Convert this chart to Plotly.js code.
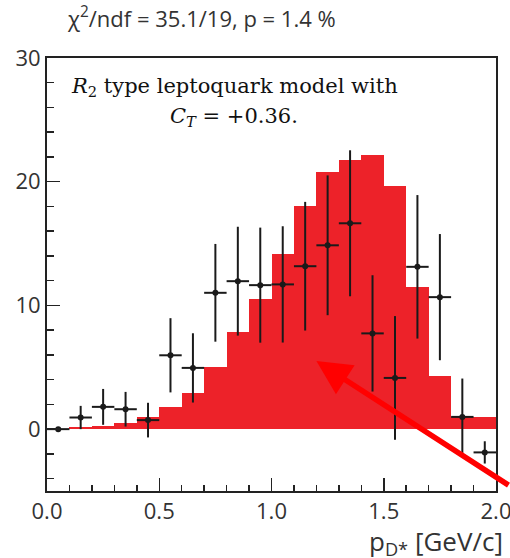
<!DOCTYPE html>
<html>
<head>
<meta charset="utf-8">
<script src="https://cdn.plot.ly/plotly-3.0.1.min.js"></script>
<style>html,body{margin:0;padding:0;background:#fff;}#chart{width:510px;height:558px;}</style>
</head>
<body>
<div id="chart"></div>
<script>
// Bin centres in p_D* [GeV/c]
const binCenters = [0.05,0.15,0.25,0.35,0.45,0.55,0.65,0.75,0.85,0.95,1.05,1.15,1.25,1.35,1.45,1.55,1.65,1.75,1.85,1.95];
// R2 leptoquark model prediction (red histogram)
const modelValues = [0,0.16,0.27,0.46,1.02,1.75,2.93,5.02,7.82,10.48,14.17,18.0,20.78,21.77,22.18,19.68,11.48,4.3,1.02,1.02];
// Measured data points
const dataValues = [0,0.94,1.8,1.61,0.73,5.97,4.95,11.02,11.96,11.64,11.7,13.17,14.86,16.64,7.74,4.14,13.12,10.67,0.99,-1.88];
const dataErrors = [0,0.94,1.45,1.4,1.4,3.0,2.8,3.95,4.4,4.65,4.7,5.2,5.65,5.9,4.7,5.0,5.8,5.1,3.1,0.9];
const binHalfWidth = 0.05;
const xTickVals = [0,0.5,1.0,1.5,2.0];
const xTickText = ['0.0','0.5','1.0','1.5','2.0'];
const yTickVals = [0,10,20,30];
const yTickText = ['0','10','20','30'];

const model = {
  type: 'bar', x: binCenters, y: modelValues, width: 0.1,
  marker: {color: '#ED2229', line: {width: 0}},
  hoverinfo: 'x+y', showlegend: false
};
const data = {
  type: 'scatter', mode: 'markers', x: binCenters, y: dataValues,
  marker: {color: '#1a1a1a', size: 6},
  error_y: {type: 'data', array: dataErrors, visible: true, color: '#1a1a1a', thickness: 2, width: 0},
  error_x: {type: 'constant', value: binHalfWidth, visible: true, color: '#1a1a1a', thickness: 2, width: 0},
  cliponaxis: false, showlegend: false
};

const tickFont = {family: '"Open Sans", "Noto Sans", sans-serif', size: 22, color: '#333'};
const layout = {
  width: 510, height: 558,
  margin: {l: 47, r: 14, t: 58, b: 67},
  paper_bgcolor: '#fff', plot_bgcolor: '#fff',
  bargap: 0,
  showlegend: false,
  title: {
    text: 'χ<sup>2</sup>/ndf = 35.1/19, p = 1.4 %',
    font: {family: '"Open Sans", "Noto Sans", sans-serif', size: 22, color: '#333'},
    x: 68/510, xanchor: 'left', xref: 'container',
    y: 1 - 19/558, yanchor: 'middle', yref: 'container'
  },
  xaxis: {
    range: [0, 2.0], showgrid: false, zeroline: false,
    showline: true, linecolor: '#222', linewidth: 2, mirror: true,
    ticks: 'inside', ticklen: 13, tickwidth: 1.5, tickcolor: '#222',
    tickvals: xTickVals, ticktext: xTickText, tickfont: tickFont,
    ticklabeloverflow: 'allow',
    minor: {dtick: 0.1, ticks: 'inside', ticklen: 6, tickwidth: 1.5, tickcolor: '#222'}
  },
  yaxis: {
    range: [-5, 30], showgrid: false, zeroline: false,
    showline: true, linecolor: '#222', linewidth: 2, mirror: true,
    ticks: 'inside', ticklen: 13, tickwidth: 1.5, tickcolor: '#222',
    tickvals: yTickVals, ticktext: yTickText, tickfont: tickFont,
    minor: {dtick: 2, ticks: 'inside', ticklen: 7, tickwidth: 1.5, tickcolor: '#222'}
  },
  annotations: [
    {
      xref: 'paper', yref: 'paper', x: (234-47)/449, y: (491-87)/433,
      xanchor: 'center', yanchor: 'middle', showarrow: false,
      text: '<i>R</i><sub>2</sub> type leptoquark model with',
      font: {family: '"DejaVu Serif", serif', size: 21, color: '#111'}
    },
    {
      xref: 'paper', yref: 'paper', x: (234-47)/449, y: (491-117)/433,
      xanchor: 'center', yanchor: 'middle', showarrow: false,
      text: '<i>C<sub>T</sub></i> = +0.36.',
      font: {family: '"DejaVu Serif", serif', size: 21, color: '#111'}
    },
    {
      xref: 'paper', yref: 'paper', x: 1, y: 0, xanchor: 'right', yanchor: 'top',
      xshift: 9, yshift: -30, showarrow: false,
      text: 'p<sub>D*</sub> [GeV/c]',
      font: {family: '"Open Sans", "Noto Sans", sans-serif', size: 26, color: '#333'}
    },
    {
      xref: 'x', yref: 'y', x: 1.2, y: 5.5,
      ax: 215, ay: 125, axref: 'pixel', ayref: 'pixel',
      text: '', showarrow: true, arrowhead: 2, arrowsize: 1.25, arrowwidth: 5.5,
      arrowcolor: '#FF0000'
    }
  ]
};
Plotly.newPlot('chart', [model, data], layout, {displayModeBar: false, staticPlot: true});
</script>
</body>
</html>
